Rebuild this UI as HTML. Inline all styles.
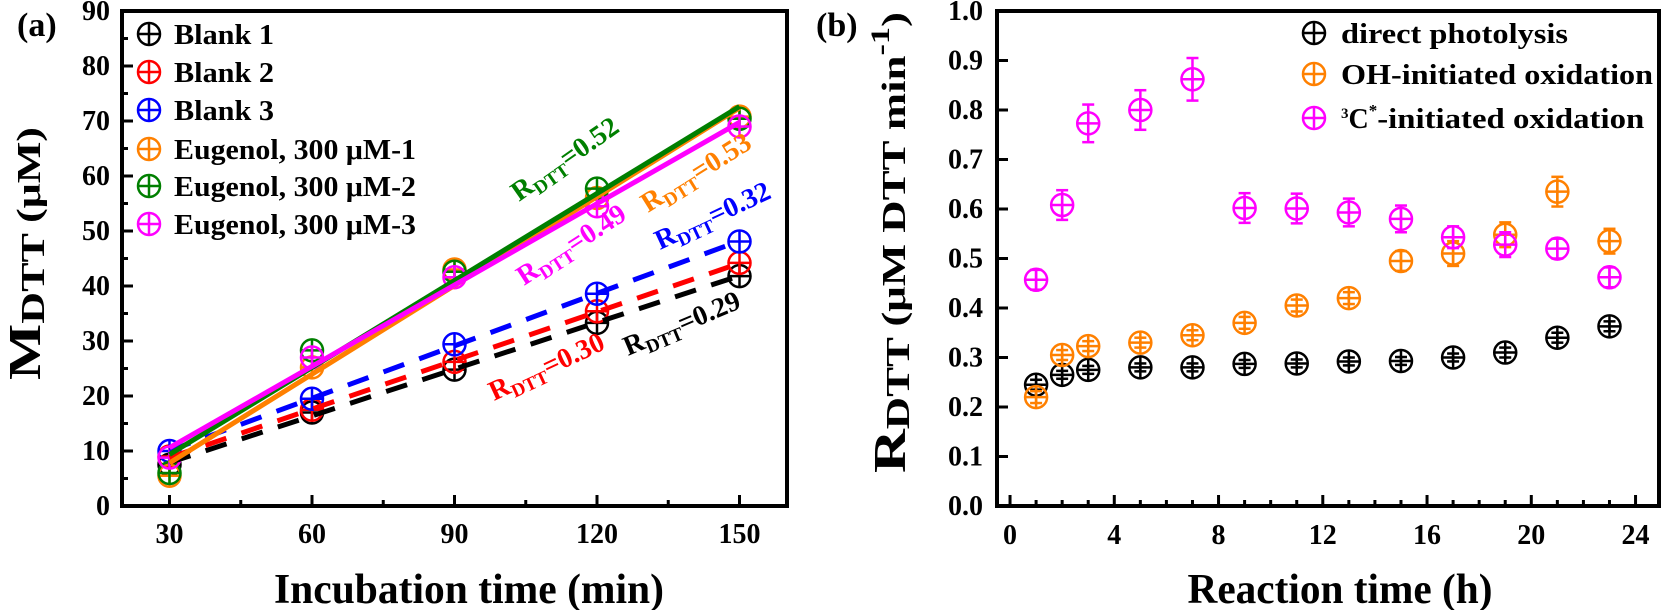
<!DOCTYPE html>
<html><head><meta charset="utf-8"><style>
html,body{margin:0;padding:0;background:#fff;}
svg{display:block;font-family:"Liberation Serif",serif;font-weight:bold;}
</style></head><body>
<svg id="fig" width="1664" height="610" viewBox="0 0 1664 610" xmlns="http://www.w3.org/2000/svg">
<text x="17" y="36" font-size="34">(a)</text>
<text x="816" y="36" font-size="34">(b)</text>
<text x="469" y="603" font-size="42" text-anchor="middle" textLength="390" lengthAdjust="spacingAndGlyphs">Incubation time (min)</text>
<text x="1340" y="603" font-size="42" text-anchor="middle" textLength="305" lengthAdjust="spacingAndGlyphs">Reaction time (h)</text>
<text transform="translate(40,380) rotate(-90)" font-size="46" textLength="253" lengthAdjust="spacingAndGlyphs">M<tspan font-size="34" dy="4">DTT</tspan><tspan font-size="34" dy="-4"> (μM)</tspan></text>
<text transform="translate(905,473) rotate(-90)" font-size="46" textLength="461" lengthAdjust="spacingAndGlyphs">R<tspan font-size="34" dy="4">DTT</tspan><tspan font-size="34" dy="-4">  (μM DTT min</tspan><tspan font-size="26" dy="-16">-1</tspan><tspan font-size="34" dy="16">)</tspan></text>
<g id="ga"></g>
<g id="gb"></g>
</svg>
<script>
// ---- Panel (a) data ----
const timesA = [30, 60, 90, 120, 150];
const blank1 = [7.5, 17, 24.8, 33.3, 41.8];
const blank2 = [9, 17.5, 26.2, 35.4, 44.2];
const blank3 = [10, 19.5, 29.4, 38.6, 48.1];
const eug1 = [5.5, 25.2, 43.0, 56, 70.8];
const eug2 = [6, 28.3, 42.6, 57.7, 70.4];
const eug3 = [8.8, 27.0, 41.6, 54.5, 69];
const namesA = ["Blank 1", "Blank 2", "Blank 3", "Eugenol, 300 μM-1", "Eugenol, 300 μM-2", "Eugenol, 300 μM-3"];
const rateLabelsA = ["0.29", "0.30", "0.32", "0.53", "0.52", "0.49"];
const yTicksA = [0, 10, 20, 30, 40, 50, 60, 70, 80, 90];
const xTicksA = [30, 60, 90, 120, 150];
// ---- Panel (b) data ----
const timesB = [1, 2, 3, 5, 7, 9, 11, 13, 15, 17, 19, 21, 23];
const direct = [0.245, 0.265, 0.275, 0.28, 0.28, 0.287, 0.288, 0.292, 0.293, 0.30, 0.31, 0.34, 0.363];
const directErr = [0.01, 0.008, 0.008, 0.008, 0.008, 0.008, 0.008, 0.008, 0.008, 0.008, 0.01, 0.01, 0.01];
const ohOx = [0.22, 0.305, 0.323, 0.33, 0.345, 0.37, 0.405, 0.42, 0.495, 0.51, 0.548, 0.635, 0.535];
const ohErr = [0.012, 0.01, 0.01, 0.01, 0.01, 0.012, 0.012, 0.012, 0.02, 0.025, 0.025, 0.03, 0.025];
const c3Ox = [0.457, 0.608, 0.773, 0.80, 0.862, 0.602, 0.601, 0.593, 0.58, 0.543, 0.528, 0.52, 0.462];
const c3Err = [0.02, 0.03, 0.038, 0.04, 0.043, 0.03, 0.03, 0.028, 0.027, 0.022, 0.025, 0.02, 0.02];
const namesB = ["direct photolysis", "OH-initiated oxidation", "-initiated oxidation"];
const yTicksB = [0, 0.1, 0.2, 0.3, 0.4, 0.5, 0.6, 0.7, 0.8, 0.9, 1.0];
const xTicksB = [0, 4, 8, 12, 16, 20, 24];

const NS = "http://www.w3.org/2000/svg";
function mk(parent, tag, attrs) {
  const e = document.createElementNS(NS, tag);
  for (const k in attrs) e.setAttribute(k, attrs[k]);
  parent.appendChild(e);
  return e;
}
function marker(parent, cx, cy, r, color) {
  const g = mk(parent, "g", {});
  mk(g, "circle", {cx: cx, cy: cy, r: r, fill: "none", stroke: color, "stroke-width": 2.5});
  mk(g, "line", {x1: cx - r, y1: cy, x2: cx + r, y2: cy, stroke: color, "stroke-width": 2.5});
  mk(g, "line", {x1: cx, y1: cy - r, x2: cx, y2: cy + r, stroke: color, "stroke-width": 2.5});
  return g;
}

// ===== Panel A =====
const ga = document.getElementById("ga");
const A = {L: 122, R: 787, T: 11, B: 506, x0: 20, x1: 160, y0: 0, y1: 90};
const xA = v => A.L + (v - A.x0) / (A.x1 - A.x0) * (A.R - A.L);
const yA = v => A.B - (v - A.y0) / (A.y1 - A.y0) * (A.B - A.T);
const colorsA = ["#000000", "#ff0000", "#0000ff", "#ff8000", "#007f00", "#ff00ff"];
const seriesA = [blank1, blank2, blank3, eug1, eug2, eug3];

yTicksA.forEach((t, i) => {
  const ln = mk(ga, "line", {x1: A.L, x2: A.L + 11, y1: yA(t), y2: yA(t), stroke: "#000", "stroke-width": 3});
  
  
  if (i < yTicksA.length - 1) {
    const mn = mk(ga, "line", {x1: A.L, x2: A.L + 6, y1: yA(t + 5), y2: yA(t + 5), stroke: "#000", "stroke-width": 3});
    
    
  }
  const tx = mk(ga, "text", {x: 110, y: yA(t) + 9, "font-size": 28, "text-anchor": "end"});
  tx.textContent = t;
  
  
});
xTicksA.forEach((t, i) => {
  const ln = mk(ga, "line", {x1: xA(t), x2: xA(t), y1: A.B, y2: A.B - 11, stroke: "#000", "stroke-width": 3});
  
  
  if (i < xTicksA.length - 1) {
    const mn = mk(ga, "line", {x1: xA(t + 15), x2: xA(t + 15), y1: A.B, y2: A.B - 6, stroke: "#000", "stroke-width": 3});
    
    
  }
  const tx = mk(ga, "text", {x: xA(t), y: 543, "font-size": 28, "text-anchor": "middle"});
  tx.textContent = t;
  
  
});

seriesA.forEach((s, si) => {
  s.forEach((v, i) => {
    const m = marker(ga, xA(timesA[i]), yA(v), 11, colorsA[si]);
    
    
  });
});
function fit(xs, ys) {
  const n = xs.length;
  const mx = xs.reduce((a, b) => a + b) / n, my = ys.reduce((a, b) => a + b) / n;
  let sxy = 0, sxx = 0;
  for (let i = 0; i < n; i++) { sxy += (xs[i] - mx) * (ys[i] - my); sxx += (xs[i] - mx) ** 2; }
  const b = sxy / sxx;
  return [b, my - b * mx];
}
seriesA.forEach((s, si) => {
  const [b, a] = fit(timesA, s);
  const x0 = timesA[0], x1 = timesA[timesA.length - 1];
  const attrs = {x1: xA(x0), y1: yA(a + b * x0), x2: xA(x1), y2: yA(a + b * x1), stroke: colorsA[si], "stroke-width": 5};
  if (si < 3) attrs["stroke-dasharray"] = "22 16";
  const ln = mk(ga, "line", attrs);
  
  
});
const fa = mk(ga, "rect", {x: A.L, y: A.T, width: A.R - A.L, height: A.B - A.T, fill: "none", stroke: "#000", "stroke-width": 4});



const legYA = [34, 72, 110, 149, 186, 224];
const legWA = [100, 100, 100, 242, 242, 242];
namesA.forEach((n, i) => {
  const g = mk(ga, "g", {});
  
  
  marker(g, 149, legYA[i], 11, colorsA[i]);
  const t = mk(g, "text", {x: 174, y: legYA[i] + 10, "font-size": 28, textLength: legWA[i], lengthAdjust: "spacingAndGlyphs"});
  t.textContent = n;
});

const annPos = [[628, 356], [494, 401], [660, 250], [648, 213], [519, 202], [524, 286]];
const annAng = [23, 25, 25, 32, 35, 33];
annPos.forEach((p, i) => {
  const t = mk(ga, "text", {transform: `translate(${p[0]},${p[1]}) rotate(-${annAng[i]})`, "font-size": 28, fill: colorsA[i]});
  
  
  const s1 = mk(t, "tspan", {}); s1.textContent = "R";
  const s2 = mk(t, "tspan", {"font-size": 19, dy: 6}); s2.textContent = "DTT";
  const s3 = mk(t, "tspan", {dy: -6}); s3.textContent = "=" + rateLabelsA[i];
});

// ===== Panel B =====
const gb = document.getElementById("gb");
const B = {L: 997, R: 1659, T: 11, B: 506, x0: -0.5, x1: 24.9, y0: 0, y1: 1.0};
const xB = v => B.L + (v - B.x0) / (B.x1 - B.x0) * (B.R - B.L);
const yB = v => B.B - (v - B.y0) / (B.y1 - B.y0) * (B.B - B.T);

yTicksB.forEach(t => {
  const ln = mk(gb, "line", {x1: B.L, x2: B.L + 11, y1: yB(t), y2: yB(t), stroke: "#000", "stroke-width": 3});
  
  
  const tx = mk(gb, "text", {x: 983, y: yB(t) + 9, "font-size": 28, "text-anchor": "end"});
  tx.textContent = t.toFixed(1);
  
  
});
for (let h = 0; h <= 24; h++) {
  const major = h % 4 === 0;
  const ln = mk(gb, "line", {x1: xB(h), x2: xB(h), y1: B.B, y2: B.B - (major ? 11 : 6), stroke: "#000", "stroke-width": 3});
  
  
}
xTicksB.forEach(t => {
  const tx = mk(gb, "text", {x: xB(t), y: 544, "font-size": 28, "text-anchor": "middle"});
  tx.textContent = t;
  
  
});

const seriesB = [direct, ohOx, c3Ox];
const errB = [directErr, ohErr, c3Err];
const colorsB = ["#000000", "#ff8000", "#ff00ff"];
const sNamesB = ["direct-photolysis", "oh-oxidation", "3c-oxidation"];
seriesB.forEach((s, si) => {
  s.forEach((v, i) => {
    const g = mk(gb, "g", {});
    
    
    const cx = xB(timesB[i]), e = errB[si][i];
    const c = colorsB[si];
    mk(g, "line", {x1: cx, x2: cx, y1: yB(v + e), y2: yB(v - e), stroke: c, "stroke-width": 2.5});
    mk(g, "line", {x1: cx - 6, x2: cx + 6, y1: yB(v + e), y2: yB(v + e), stroke: c, "stroke-width": 2.5});
    mk(g, "line", {x1: cx - 6, x2: cx + 6, y1: yB(v - e), y2: yB(v - e), stroke: c, "stroke-width": 2.5});
    marker(g, cx, yB(v), 11, c);
  });
});
const fb = mk(gb, "rect", {x: B.L, y: B.T, width: B.R - B.L, height: B.B - B.T, fill: "none", stroke: "#000", "stroke-width": 4});



const legYB = [33, 74, 118];
const legWB = [227, 312, 280];
namesB.forEach((n, i) => {
  const g = mk(gb, "g", {});
  
  
  marker(g, 1314, legYB[i], 11, colorsB[i]);
  if (i === 2) {
    const t = mk(g, "text", {x: 1341, y: legYB[i] + 10, "font-size": 28});
    const a = mk(t, "tspan", {"font-size": 15, dy: -10}); a.textContent = "3";
    const b = mk(t, "tspan", {dy: 10}); b.textContent = "C";
    const c = mk(t, "tspan", {"font-size": 17, dy: -12}); c.textContent = "*";
    const d = mk(t, "tspan", {dy: 12, textLength: 267, lengthAdjust: "spacingAndGlyphs"}); d.textContent = n;
  } else {
    const t = mk(g, "text", {x: 1341, y: legYB[i] + 10, "font-size": 28, textLength: legWB[i], lengthAdjust: "spacingAndGlyphs"});
    t.textContent = n;
  }
});
</script>
</body></html>
